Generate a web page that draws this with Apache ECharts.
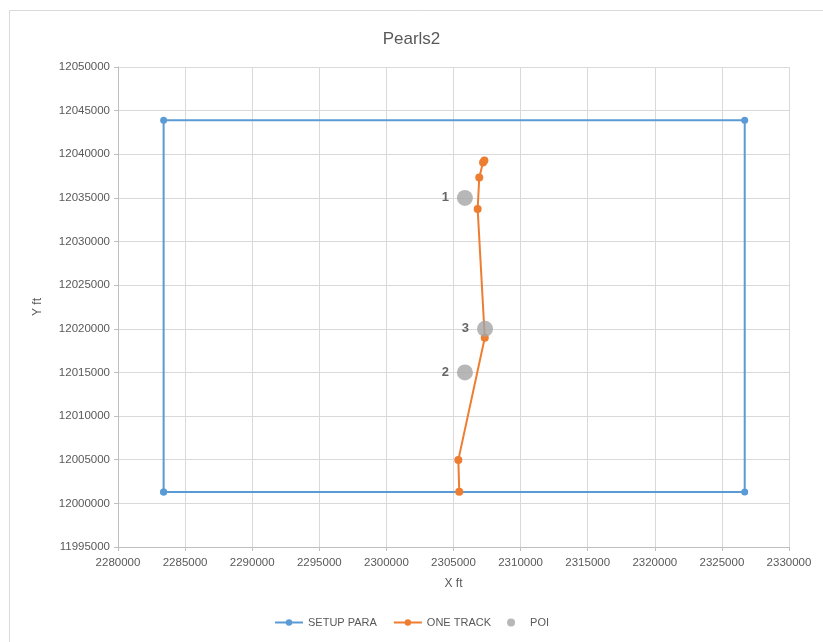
<!DOCTYPE html>
<html>
<head>
<meta charset="utf-8">
<script src="https://cdn.jsdelivr.net/npm/echarts@6/dist/echarts.min.js"></script>
<style>
html,body{margin:0;padding:0;background:#fff;}
#c{width:823px;height:642px;}
</style>
</head>
<body>
<div id="c"></div>
<script>
// Data
const setupParaX = [2283400, 2283400, 2326700, 2326700, 2283400];
const setupParaY = [12001300, 12043900, 12043900, 12001300, 12001300];
const trackX = [2305430, 2305360, 2307330, 2306800, 2306920, 2307200, 2307300];
const trackY = [12001340, 12004980, 12018980, 12033730, 12037350, 12039050, 12039300];
const poiX = [2305850, 2305850, 2307350];
const poiY = [12035000, 12015000, 12020000];
const poiLabels = ['1', '2', '3'];
const xTicks = {min: 2280000, max: 2330000, interval: 5000};
const yTicks = {min: 11995000, max: 12050000, interval: 5000};

const zip = (xs, ys) => xs.map((x, i) => [x, ys[i]]);
const FONT = '"Liberation Sans", Arial, sans-serif';
const chart = echarts.init(document.getElementById('c'), null, {renderer: 'canvas'});
chart.setOption({
  backgroundColor: '#ffffff',
  animation: false,
  textStyle: {fontFamily: FONT},
  graphic: [{
    type: 'rect', shape: {x: 9.5, y: 10.5, width: 830, height: 640},
    style: {fill: 'none', stroke: '#d9d9d9', lineWidth: 1}, silent: true
  }],
  title: {
    text: 'Pearls2', left: 'center', top: 26,
    textStyle: {fontFamily: FONT, fontSize: 17, fontWeight: 'normal', color: '#595959'}
  },
  legend: {
    bottom: 9, left: 'center', itemGap: 16, itemWidth: 28, itemHeight: 8,
    textStyle: {fontFamily: FONT, fontSize: 11, color: '#595959'},
    data: ['SETUP PARA', 'ONE TRACK', 'POI']
  },
  grid: {left: 118, right: 34, top: 67, bottom: 95},
  xAxis: {
    type: 'value', min: xTicks.min, max: xTicks.max, interval: xTicks.interval,
    name: 'X ft', nameLocation: 'middle', nameGap: 31,
    nameTextStyle: {fontFamily: FONT, fontSize: 12, color: '#595959'},
    axisLine: {show: true, lineStyle: {color: '#bfbfbf'}},
    axisTick: {show: true, length: 4, lineStyle: {color: '#bfbfbf'}},
    axisLabel: {fontFamily: FONT, fontSize: 11.5, color: '#595959', margin: 10, formatter: v => String(v)},
    splitLine: {show: true, lineStyle: {color: '#d9d9d9'}}
  },
  yAxis: {
    type: 'value', min: yTicks.min, max: yTicks.max, interval: yTicks.interval,
    name: 'Y ft', nameLocation: 'middle', nameGap: 74,
    nameTextStyle: {fontFamily: FONT, fontSize: 12, color: '#595959'},
    axisLine: {show: true, lineStyle: {color: '#bfbfbf'}},
    axisTick: {show: true, length: 4, lineStyle: {color: '#bfbfbf'}},
    axisLabel: {fontFamily: FONT, fontSize: 11.5, color: '#595959', margin: 8, formatter: v => String(v)},
    splitLine: {show: true, lineStyle: {color: '#d9d9d9'}}
  },
  series: [
    {
      name: 'SETUP PARA', type: 'line', data: zip(setupParaX, setupParaY),
      symbol: 'circle', symbolSize: 7, showAllSymbol: true,
      lineStyle: {color: '#5b9bd5', width: 2},
      itemStyle: {color: '#5b9bd5'}, z: 2
    },
    {
      name: 'ONE TRACK', type: 'line', data: zip(trackX, trackY),
      symbol: 'circle', symbolSize: 8, showAllSymbol: true,
      lineStyle: {color: '#ed7d31', width: 2},
      itemStyle: {color: '#ed7d31'}, z: 3
    },
    {
      name: 'POI', type: 'scatter', data: zip(poiX, poiY).map((p, i) => ({value: p, name: poiLabels[i]})),
      symbol: 'circle', symbolSize: 16,
      itemStyle: {color: '#a5a5a5'}, z: 4,
      label: {show: true, position: 'left', distance: 8, formatter: p => p.name,
        fontFamily: FONT, fontSize: 13, fontWeight: 'bold', color: '#404040'}
    }
  ]
});
</script>
</body>
</html>
